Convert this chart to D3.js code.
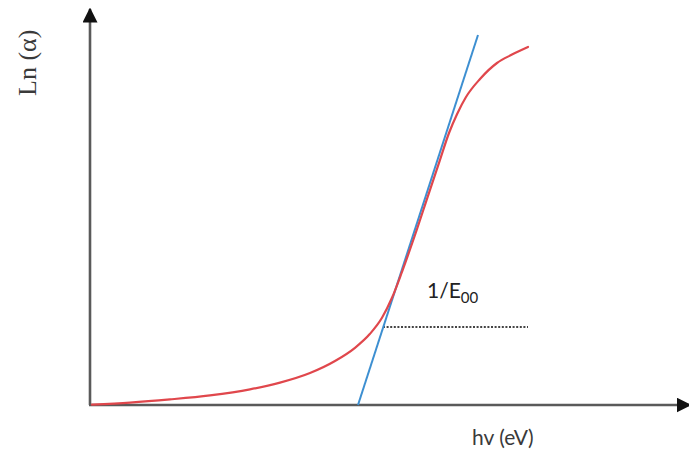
<!DOCTYPE html>
<html>
<head>
<meta charset="utf-8">
<script src="https://cdn.jsdelivr.net/npm/d3@7"></script>
<style>
  html, body { margin: 0; padding: 0; background: #fff; }
  svg { display: block; }
</style>
</head>
<body>
<svg id="chart" width="689" height="455"></svg>
<script>
// Absorption edge: ln(alpha) against photon energy (arbitrary units)
const hv = [0.01, 0.20, 0.40, 0.60, 0.80, 0.95, 1.10, 1.225, 1.325, 1.40, 1.46, 1.51,
            1.56, 1.625, 1.69, 1.75, 1.795, 1.835, 1.88, 1.95, 2.035, 2.11, 2.19];
const lnAlpha = [0.01, 0.06, 0.14, 0.24, 0.39, 0.56, 0.80, 1.10, 1.43, 1.78, 2.18, 2.68,
                 3.33, 4.25, 5.23, 6.13, 6.80, 7.27, 7.70, 8.15, 8.55, 8.76, 8.95];

// Linear fit through the steep part of the edge
const tangentX = [1.34, 1.94];
const tangentY = [0.0, 9.25];

// Horizontal dotted reference for the slope 1/E00
const refX = [1.465, 2.19];
const refY = [1.95, 1.95];

const xLabel = "hv (eV)";
const yLabel = "Ln (α)";

const x = d3.scaleLinear().domain([0, 3]).range([90, 690]);
const y = d3.scaleLinear().domain([0, 10]).range([405, 5]);

const svg = d3.select("#chart");

const defs = svg.append("defs");
defs.append("marker")
  .attr("id", "arrow")
  .attr("viewBox", "0 0 10 10")
  .attr("refX", 9).attr("refY", 5)
  .attr("markerUnits", "userSpaceOnUse")
  .attr("markerWidth", 15).attr("markerHeight", 15)
  .attr("orient", "auto")
  .append("path")
  .attr("d", "M0,0 L10,5 L0,10 Z")
  .attr("fill", "#111");

// Axes with arrowheads
svg.append("line")
  .attr("x1", x(0)).attr("y1", y(0))
  .attr("x2", x(0)).attr("y2", y(9.9))
  .attr("stroke", "#5a5a5a").attr("stroke-width", 2.6)
  .attr("marker-end", "url(#arrow)");

svg.append("line")
  .attr("x1", x(0) - 1).attr("y1", y(0))
  .attr("x2", x(3.0)).attr("y2", y(0))
  .attr("stroke", "#5a5a5a").attr("stroke-width", 2.6)
  .attr("marker-end", "url(#arrow)");

// Dotted reference
svg.append("line")
  .attr("x1", x(refX[0])).attr("y1", y(refY[0]))
  .attr("x2", x(refX[1])).attr("y2", y(refY[1]))
  .attr("stroke", "#444").attr("stroke-width", 2)
  .attr("stroke-dasharray", "2,1.6");

// Tangent line
const line = d3.line().x(d => x(d[0])).y(d => y(d[1]));
svg.append("path")
  .datum(d3.zip(tangentX, tangentY))
  .attr("d", line)
  .attr("fill", "none")
  .attr("stroke", "#3d8fd1")
  .attr("stroke-width", 2);

// Absorption curve
svg.append("path")
  .datum(d3.zip(hv, lnAlpha))
  .attr("d", line.curve(d3.curveMonotoneX))
  .attr("fill", "none")
  .attr("stroke", "#e0474c")
  .attr("stroke-width", 2.2)
  .attr("stroke-linecap", "round");

// Labels
svg.append("text")
  .attr("x", 472).attr("y", 445)
  .attr("font-family", "Lato, 'Open Sans', sans-serif")
  .attr("font-size", 21)
  .attr("fill", "#3a3a3a")
  .text(xLabel);

svg.append("text")
  .attr("transform", "translate(36,96) rotate(-90)")
  .attr("font-family", "'Liberation Serif', 'Times New Roman', serif")
  .attr("font-size", 26)
  .attr("fill", "#3a3a3a")
  .text(yLabel);

const eLabel = svg.append("text")
  .attr("x", 427).attr("y", 298)
  .attr("font-family", "Lato, 'Open Sans', sans-serif")
  .attr("font-size", 21)
  .attr("fill", "#222");
eLabel.append("tspan").text("1/E");
eLabel.append("tspan").attr("dy", 5).attr("font-size", 15).text("00");
</script>
</body>
</html>
